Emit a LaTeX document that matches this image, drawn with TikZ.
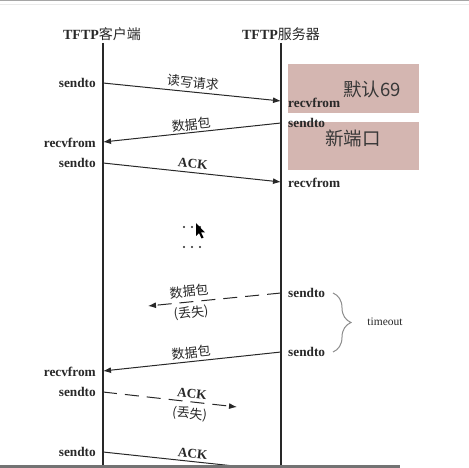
\documentclass[tikz,border=0pt]{standalone}
\usepackage{fontspec}
\setmainfont{Liberation Serif}
\newfontfamily\cjk{Noto Sans CJK SC}
\usetikzlibrary{arrows.meta,decorations.pathreplacing}
\definecolor{pinkc}{RGB}{212,182,177}
\definecolor{inkc}{RGB}{40,40,40}
\begin{document}
\begin{tikzpicture}[x=1pt,y=-1pt,
  life/.style={line width=1.2pt, draw=inkc},
  msg/.style={line width=1pt, draw=inkc, -{Latex[length=8pt,width=6pt]}},
  lost/.style={msg, dash pattern=on 14pt off 8pt},
  lbl/.style={font=\fontsize{13.3}{14}\selectfont\bfseries, inner sep=1pt, text=inkc},
  cjklbl/.style={font=\fontsize{13}{14}\selectfont\cjk, inner sep=1pt, text=inkc},
  hdr/.style={font=\fontsize{14}{15}\selectfont, inner sep=1pt, text=inkc},
  pinkbox/.style={fill=pinkc, draw=none},
  bigtxt/.style={font=\fontsize{18.5}{20}\selectfont\cjk, text=black!78, inner sep=0pt},
  dotc/.style={fill=inkc, draw=none}
]
\useasboundingbox (0,0) rectangle (469,468);
\clip (0,0) rectangle (469,468);
\fill[white] (0,0) rectangle (469,468);
% screenshot frame
\fill[black!35] (0,0) rectangle (469,1.5);
\fill[black!8] (0,4.5) rectangle (469,5.5);

% pink boxes
\node[pinkbox, minimum width=131pt, minimum height=49pt, anchor=north west] (box1) at (288,64) {};
\node[pinkbox, minimum width=131pt, minimum height=48pt, anchor=north west] (box2) at (288,122) {};
\node[bigtxt] (t69) at (372,89) {默认69};
\node[bigtxt] (tnew) at (353,138) {新端口};

% headers
\node[hdr] (hc) at (102,34) {\textbf{TFTP}{\cjk 客户端}};
\node[hdr] (hs) at (281,34) {\textbf{TFTP}{\cjk 服务器}};

% lifelines
\coordinate (ctop) at (103,43);
\coordinate (cbot) at (103,470);
\coordinate (stop) at (281,43);
\coordinate (sbot) at (281,470);
\draw[life] (ctop) -- (cbot);
\draw[life] (stop) -- (sbot);

% message end points
\coordinate (c1) at (103,83);   \coordinate (s1) at (281,101);
\coordinate (s2) at (281,123);  \coordinate (c2) at (103,142);
\coordinate (c3) at (103,163);  \coordinate (s3) at (281,182);
\coordinate (s4) at (281,293);  \coordinate (l4) at (148,306);
\coordinate (s5) at (281,352);  \coordinate (c5) at (103,371);
\coordinate (c6) at (103,392);  \coordinate (l6) at (237,407);
\coordinate (c7) at (103,452);  \coordinate (s7) at (281,471);

% side labels, client
\node[lbl, anchor=east] (lc1) at (97,83) {sendto};
\node[lbl, anchor=east] (lc2) at (97,143) {recvfrom};
\node[lbl, anchor=east] (lc3) at (97,163) {sendto};
\node[lbl, anchor=east] (lc5) at (97,372) {recvfrom};
\node[lbl, anchor=east] (lc6) at (97,392) {sendto};
\node[lbl, anchor=east] (lc7) at (97,452) {sendto};
% side labels, server
\node[lbl, anchor=west] (ls1) at (287,103) {recvfrom};
\node[lbl, anchor=west] (ls2) at (287,123) {sendto};
\node[lbl, anchor=west] (ls3) at (287,183) {recvfrom};
\node[lbl, anchor=west] (ls4) at (287,293) {sendto};
\node[lbl, anchor=west] (ls5) at (287,352) {sendto};

% messages
\draw[msg] (c1) -- node[cjklbl, sloped, above=2pt] {读写请求} (s1);
\draw[msg] (s2) -- node[cjklbl, sloped, above=0.5pt] {数据包} (c2);
\draw[msg] (c3) -- node[lbl, sloped, above=2.5pt] {ACK} (s3);
\draw[lost] (s4) -- node[pos=0.684, cjklbl, sloped, above=3pt] {数据包}
                    node[pos=0.684, cjklbl, sloped, below=3pt] {(丢失)} (l4);
\draw[msg] (s5) -- node[cjklbl, sloped, above=1.5pt] {数据包} (c5);
\draw[lost] (c6) -- node[pos=0.657, lbl, sloped, above=2pt] {ACK}
                    node[pos=0.657, cjklbl, sloped, below=4pt] {(丢失)} (l6);
\draw[msg] (c7) -- node[lbl, sloped, above=1.5pt] {ACK} (s7);

% ellipsis dots
\foreach \xx in {184,192,200} {
  \fill[dotc] (\xx,227) circle (1.2pt);
  \fill[dotc] (\xx,247) circle (1.2pt);
}
% mouse pointer
\fill[black] (196,223) -- (196,236) -- (199,233) -- (201.5,238.5) -- (203.5,237.5) -- (201,232.5) -- (205,232.5) -- cycle;

% timeout brace
\coordinate (bt) at (333,293);
\coordinate (bb) at (333,352);
\draw[black!45, line width=1pt, decorate, decoration={brace, amplitude=18pt, aspect=0.5}] (bt) -- (bb);
\node[lbl, font=\fontsize{11.5}{12}\selectfont] (tmo) at (385,322) {timeout};

% bottom bar of the screenshot
\fill[black!55] (0,465) rectangle (400,468);
\end{tikzpicture}
\end{document}
